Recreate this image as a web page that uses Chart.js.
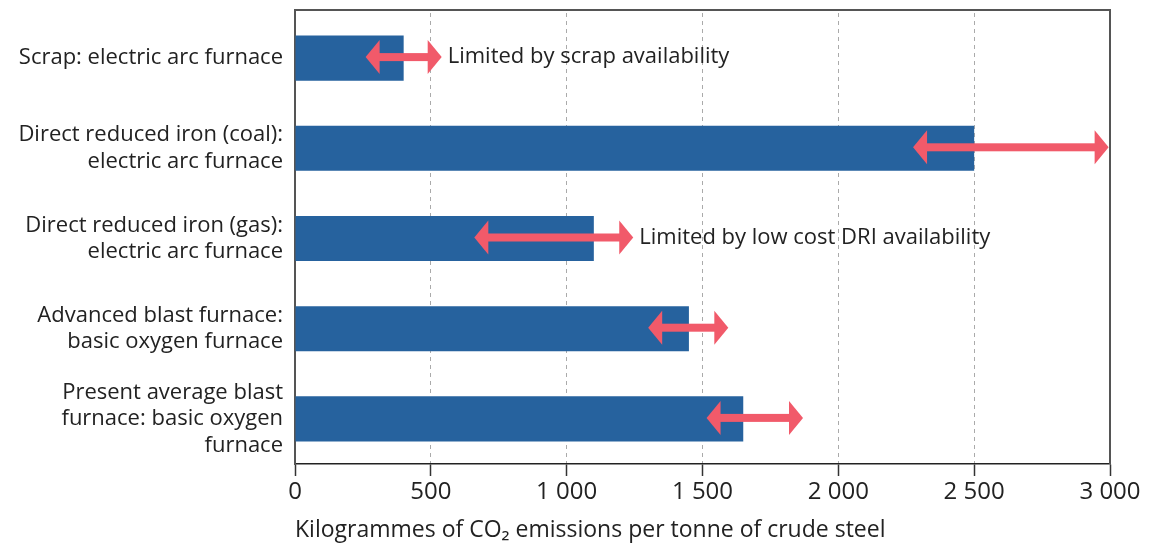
<!DOCTYPE html>
<html>
<head>
<meta charset="utf-8">
<script src="https://cdn.jsdelivr.net/npm/chart.js@4"></script>
<style>
  html,body{margin:0;padding:0;background:#fff;}
  #wrap{width:1150px;height:544px;}
</style>
</head>
<body>
<div id="wrap"><canvas id="c"></canvas></div>
<script>
// data
const categories = [
  'Scrap: electric arc furnace',
  ['Direct reduced iron (coal):', 'electric arc furnace'],
  ['Direct reduced iron (gas):', 'electric arc furnace'],
  ['Advanced blast furnace:', 'basic oxygen furnace'],
  ['Present average blast', 'furnace: basic oxygen', 'furnace']
];
const emissions = [400, 2500, 1100, 1450, 1650];
const rangeLow  = [260, 2275, 660, 1300, 1515];
const rangeHigh = [540, 2995, 1245, 1595, 1870];
const notes = ['Limited by scrap availability', '', 'Limited by low cost DRI availability', '', ''];
const xTicks = [0, 500, 1000, 1500, 2000, 2500, 3000];
const xTitle = 'Kilogrammes of CO\u2082 emissions per tonne of crude steel';

const FONT = "'Open Sans', 'Noto Sans', sans-serif";
const BAR = '#26629e', ARROW = '#f15a6a', TXT = '#222';
const fmt = v => String(v).replace(/\B(?=(\d{3})+(?!\d))/g, ' ');

// range arrows + notes + top/right frame
const arrowPlugin = {
  id: 'arrows',
  afterDatasetsDraw(chart) {
    const {ctx, chartArea: a, scales: {x, y}} = chart;
    ctx.save();
    ctx.strokeStyle = '#555'; ctx.lineWidth = 2;
    ctx.beginPath(); ctx.moveTo(a.left - 1, a.top - 3); ctx.lineTo(a.right, a.top - 3); ctx.lineTo(a.right, a.bottom); ctx.stroke();
    ctx.beginPath(); ctx.moveTo(a.left, a.top - 3); ctx.lineTo(a.left, a.top); ctx.stroke();
    const head = 14, half = 17, shaft = 8;
    rangeLow.forEach((lo, i) => {
      const cy = y.getPixelForValue(i) - 1;
      const x1 = x.getPixelForValue(lo), x2 = x.getPixelForValue(rangeHigh[i]);
      ctx.fillStyle = ARROW;
      ctx.fillRect(x1 + head - 1, cy - shaft / 2, (x2 - x1) - 2 * head + 2, shaft);
      ctx.beginPath(); ctx.moveTo(x1, cy); ctx.lineTo(x1 + head, cy - half); ctx.lineTo(x1 + head, cy + half); ctx.closePath(); ctx.fill();
      ctx.beginPath(); ctx.moveTo(x2, cy); ctx.lineTo(x2 - head, cy - half); ctx.lineTo(x2 - head, cy + half); ctx.closePath(); ctx.fill();
      if (notes[i]) {
        ctx.fillStyle = TXT; ctx.font = `22px ${FONT}`;
        ctx.textAlign = 'left'; ctx.textBaseline = 'middle';
        ctx.fillText(notes[i], x2 + 6, cy);
      }
    });
    ctx.restore();
  }
};

new Chart(document.getElementById('c'), {
  type: 'bar',
  data: {
    labels: categories,
    datasets: [{data: emissions, backgroundColor: BAR, barPercentage: 0.5, categoryPercentage: 1}]
  },
  options: {
    indexAxis: 'y', responsive: true, maintainAspectRatio: false, animation: false,
    layout: {padding: {top: 13, right: 40, left: 0, bottom: 0}},
    plugins: {legend: {display: false}, tooltip: {enabled: false}},
    scales: {
      x: {
        min: 0, max: 3000,
        afterBuildTicks: s => { s.ticks = xTicks.map(v => ({value: v})); },
        afterFit: s => { s.height = 80; s.paddingLeft = 0; s.paddingRight = 0; },
        border: {display: true, color: '#222', width: 1.5, dash: [4, 4]},
        grid: {
          color: c => (c.tick && (c.tick.value === 0 || c.tick.value === 3000)) ? 'rgba(0,0,0,0)' : '#aaa',
          lineWidth: 1, tickLength: 12, tickColor: '#333', tickWidth: 1.5, tickBorderDash: []
        },
        ticks: {color: TXT, font: {size: 24, family: FONT}, padding: 2, callback: v => fmt(v), maxRotation: 0},
        title: {display: true, text: xTitle, align: 'start', color: TXT, font: {size: 23, family: FONT}, padding: {top: 4, bottom: 0}}
      },
      y: {
        afterFit: s => { s.width = 295; s.paddingTop = 0; s.paddingBottom = 0; },
        border: {display: true, color: '#555', width: 2},
        grid: {display: false, drawTicks: false},
        ticks: {color: TXT, font: {size: 22, family: FONT, lineHeight: 1.2}, padding: 12}
      }
    }
  },
  plugins: [arrowPlugin]
});
</script>
</body>
</html>
